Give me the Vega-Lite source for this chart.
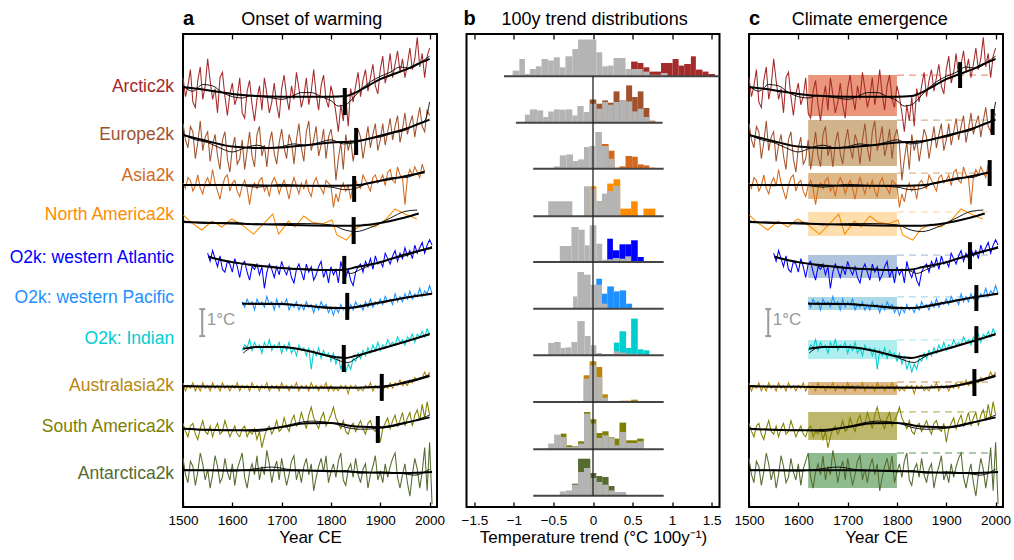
{
"$schema":"https://vega.github.io/schema/vega-lite/v6.json",
"padding":0,
"autosize":{"type":"pad"},
"background":"white",
"config":{"font":"Liberation Sans","view":{"stroke":"black","strokeWidth":2},"axis":{"grid":false,"domain":false,"labelFont":"Liberation Sans","labelFontSize":13.5,"labelColor":"black","titleFont":"Liberation Sans","titleFontSize":17,"titleFontWeight":"normal","titleColor":"black","tickColor":"black","tickWidth":1.3,"labelFlush":false}},
"datasets":{
"ts":[
{"s":"Ar","t":1500,"v":15.9},{"s":"Ar","t":1505,"v":15.2},{"s":"Ar","t":1510,"v":15.6},{"s":"Ar","t":1515,"v":16.2},{"s":"Ar","t":1520,"v":15.0},{"s":"Ar","t":1525,"v":14.8},{"s":"Ar","t":1530,"v":15.8},{"s":"Ar","t":1535,"v":16.3},{"s":"Ar","t":1540,"v":15.1},{"s":"Ar","t":1545,"v":15.6},
{"s":"Ar","t":1550,"v":16.6},{"s":"Ar","t":1555,"v":15.8},{"s":"Ar","t":1560,"v":15.1},{"s":"Ar","t":1565,"v":15.5},{"s":"Ar","t":1570,"v":14.6},{"s":"Ar","t":1575,"v":15.9},{"s":"Ar","t":1580,"v":16.1},{"s":"Ar","t":1585,"v":15.2},{"s":"Ar","t":1590,"v":14.5},{"s":"Ar","t":1595,"v":15.3},
{"s":"Ar","t":1600,"v":15.7},{"s":"Ar","t":1605,"v":14.9},{"s":"Ar","t":1610,"v":15.2},{"s":"Ar","t":1615,"v":15.9},{"s":"Ar","t":1620,"v":14.6},{"s":"Ar","t":1625,"v":14.4},{"s":"Ar","t":1630,"v":15.4},{"s":"Ar","t":1635,"v":15.8},{"s":"Ar","t":1640,"v":14.9},{"s":"Ar","t":1645,"v":14.3},
{"s":"Ar","t":1650,"v":15.1},{"s":"Ar","t":1655,"v":15.6},{"s":"Ar","t":1660,"v":14.7},{"s":"Ar","t":1665,"v":15.9},{"s":"Ar","t":1670,"v":15.3},{"s":"Ar","t":1675,"v":14.6},{"s":"Ar","t":1680,"v":15.0},{"s":"Ar","t":1685,"v":15.7},{"s":"Ar","t":1690,"v":14.9},{"s":"Ar","t":1695,"v":14.4},
{"s":"Ar","t":1700,"v":15.5},{"s":"Ar","t":1705,"v":16.0},{"s":"Ar","t":1710,"v":15.2},{"s":"Ar","t":1715,"v":14.7},{"s":"Ar","t":1720,"v":15.6},{"s":"Ar","t":1725,"v":15.1},{"s":"Ar","t":1730,"v":16.1},{"s":"Ar","t":1735,"v":15.5},{"s":"Ar","t":1740,"v":14.8},{"s":"Ar","t":1745,"v":15.2},
{"s":"Ar","t":1750,"v":15.9},{"s":"Ar","t":1755,"v":14.9},{"s":"Ar","t":1760,"v":15.4},{"s":"Ar","t":1765,"v":16.2},{"s":"Ar","t":1770,"v":15.3},{"s":"Ar","t":1775,"v":14.7},{"s":"Ar","t":1780,"v":15.6},{"s":"Ar","t":1785,"v":16.0},{"s":"Ar","t":1790,"v":15.1},{"s":"Ar","t":1795,"v":14.8},
{"s":"Ar","t":1800,"v":15.6},{"s":"Ar","t":1805,"v":15.2},{"s":"Ar","t":1810,"v":14.6},{"s":"Ar","t":1815,"v":13.9},{"s":"Ar","t":1820,"v":14.9},{"s":"Ar","t":1825,"v":14.3},{"s":"Ar","t":1830,"v":15.2},{"s":"Ar","t":1835,"v":14.1},{"s":"Ar","t":1840,"v":15.5},{"s":"Ar","t":1845,"v":15.0},
{"s":"Ar","t":1850,"v":15.6},{"s":"Ar","t":1855,"v":16.1},{"s":"Ar","t":1860,"v":15.2},{"s":"Ar","t":1865,"v":15.8},{"s":"Ar","t":1870,"v":16.2},{"s":"Ar","t":1875,"v":15.4},{"s":"Ar","t":1880,"v":15.9},{"s":"Ar","t":1885,"v":16.4},{"s":"Ar","t":1890,"v":15.6},{"s":"Ar","t":1895,"v":15.3},
{"s":"Ar","t":1900,"v":16.2},{"s":"Ar","t":1905,"v":16.7},{"s":"Ar","t":1910,"v":15.7},{"s":"Ar","t":1915,"v":16.1},{"s":"Ar","t":1920,"v":16.8},{"s":"Ar","t":1925,"v":15.9},{"s":"Ar","t":1930,"v":16.4},{"s":"Ar","t":1935,"v":16.9},{"s":"Ar","t":1940,"v":16.1},{"s":"Ar","t":1945,"v":16.6},
{"s":"Ar","t":1950,"v":15.9},{"s":"Ar","t":1955,"v":16.4},{"s":"Ar","t":1960,"v":17.0},{"s":"Ar","t":1965,"v":16.2},{"s":"Ar","t":1970,"v":16.6},{"s":"Ar","t":1975,"v":17.4},{"s":"Ar","t":1980,"v":16.3},{"s":"Ar","t":1985,"v":16.8},{"s":"Ar","t":1990,"v":15.9},{"s":"Ar","t":1995,"v":16.7},{"s":"Ar","t":2000,"v":17.0},
{"s":"Eu","t":1500,"v":14.2},{"s":"Eu","t":1505,"v":13.6},{"s":"Eu","t":1510,"v":13.3},{"s":"Eu","t":1515,"v":14.1},{"s":"Eu","t":1520,"v":13.9},{"s":"Eu","t":1525,"v":12.9},{"s":"Eu","t":1530,"v":13.5},{"s":"Eu","t":1535,"v":14.3},{"s":"Eu","t":1540,"v":13.2},{"s":"Eu","t":1545,"v":13.7},
{"s":"Eu","t":1550,"v":13.9},{"s":"Eu","t":1555,"v":12.8},{"s":"Eu","t":1560,"v":13.4},{"s":"Eu","t":1565,"v":13.8},{"s":"Eu","t":1570,"v":13.0},{"s":"Eu","t":1575,"v":12.5},{"s":"Eu","t":1580,"v":13.6},{"s":"Eu","t":1585,"v":13.9},{"s":"Eu","t":1590,"v":12.9},{"s":"Eu","t":1595,"v":12.4},
{"s":"Eu","t":1600,"v":13.3},{"s":"Eu","t":1605,"v":13.7},{"s":"Eu","t":1610,"v":12.7},{"s":"Eu","t":1615,"v":12.9},{"s":"Eu","t":1620,"v":13.6},{"s":"Eu","t":1625,"v":12.5},{"s":"Eu","t":1630,"v":13.2},{"s":"Eu","t":1635,"v":13.9},{"s":"Eu","t":1640,"v":13.0},{"s":"Eu","t":1645,"v":12.6},
{"s":"Eu","t":1650,"v":13.8},{"s":"Eu","t":1655,"v":14.1},{"s":"Eu","t":1660,"v":13.0},{"s":"Eu","t":1665,"v":13.4},{"s":"Eu","t":1670,"v":12.6},{"s":"Eu","t":1675,"v":13.5},{"s":"Eu","t":1680,"v":13.9},{"s":"Eu","t":1685,"v":13.1},{"s":"Eu","t":1690,"v":12.7},{"s":"Eu","t":1695,"v":13.5},
{"s":"Eu","t":1700,"v":14.0},{"s":"Eu","t":1705,"v":13.3},{"s":"Eu","t":1710,"v":12.9},{"s":"Eu","t":1715,"v":13.8},{"s":"Eu","t":1720,"v":13.5},{"s":"Eu","t":1725,"v":12.7},{"s":"Eu","t":1730,"v":13.6},{"s":"Eu","t":1735,"v":14.2},{"s":"Eu","t":1740,"v":13.3},{"s":"Eu","t":1745,"v":12.8},
{"s":"Eu","t":1750,"v":13.9},{"s":"Eu","t":1755,"v":14.3},{"s":"Eu","t":1760,"v":13.2},{"s":"Eu","t":1765,"v":13.6},{"s":"Eu","t":1770,"v":14.1},{"s":"Eu","t":1775,"v":13.0},{"s":"Eu","t":1780,"v":13.4},{"s":"Eu","t":1785,"v":14.0},{"s":"Eu","t":1790,"v":12.9},{"s":"Eu","t":1795,"v":13.7},
{"s":"Eu","t":1800,"v":14.0},{"s":"Eu","t":1805,"v":13.4},{"s":"Eu","t":1810,"v":12.1},{"s":"Eu","t":1815,"v":12.9},{"s":"Eu","t":1820,"v":13.5},{"s":"Eu","t":1825,"v":12.5},{"s":"Eu","t":1830,"v":13.8},{"s":"Eu","t":1835,"v":13.2},{"s":"Eu","t":1840,"v":13.6},{"s":"Eu","t":1845,"v":12.8},
{"s":"Eu","t":1850,"v":13.4},{"s":"Eu","t":1855,"v":14.0},{"s":"Eu","t":1860,"v":13.7},{"s":"Eu","t":1865,"v":12.9},{"s":"Eu","t":1870,"v":13.5},{"s":"Eu","t":1875,"v":14.1},{"s":"Eu","t":1880,"v":13.3},{"s":"Eu","t":1885,"v":13.8},{"s":"Eu","t":1890,"v":14.2},{"s":"Eu","t":1895,"v":13.2},
{"s":"Eu","t":1900,"v":13.6},{"s":"Eu","t":1905,"v":14.2},{"s":"Eu","t":1910,"v":13.4},{"s":"Eu","t":1915,"v":13.9},{"s":"Eu","t":1920,"v":14.4},{"s":"Eu","t":1925,"v":13.6},{"s":"Eu","t":1930,"v":14.1},{"s":"Eu","t":1935,"v":14.5},{"s":"Eu","t":1940,"v":13.5},{"s":"Eu","t":1945,"v":14.0},
{"s":"Eu","t":1950,"v":14.6},{"s":"Eu","t":1955,"v":13.8},{"s":"Eu","t":1960,"v":14.2},{"s":"Eu","t":1965,"v":14.5},{"s":"Eu","t":1970,"v":13.7},{"s":"Eu","t":1975,"v":14.3},{"s":"Eu","t":1980,"v":14.8},{"s":"Eu","t":1985,"v":14.1},{"s":"Eu","t":1990,"v":13.9},{"s":"Eu","t":1995,"v":14.7},{"s":"Eu","t":2000,"v":14.5},
{"s":"As","t":1500,"v":12.0},{"s":"As","t":1505,"v":11.8},{"s":"As","t":1510,"v":12.2},{"s":"As","t":1515,"v":12.1},{"s":"As","t":1520,"v":11.7},{"s":"As","t":1525,"v":11.9},{"s":"As","t":1530,"v":12.3},{"s":"As","t":1535,"v":11.8},{"s":"As","t":1540,"v":11.6},{"s":"As","t":1545,"v":12.0},
{"s":"As","t":1550,"v":12.2},{"s":"As","t":1555,"v":11.9},{"s":"As","t":1560,"v":12.5},{"s":"As","t":1565,"v":12.0},{"s":"As","t":1570,"v":11.7},{"s":"As","t":1575,"v":11.4},{"s":"As","t":1580,"v":11.9},{"s":"As","t":1585,"v":12.2},{"s":"As","t":1590,"v":12.3},{"s":"As","t":1595,"v":11.7},
{"s":"As","t":1600,"v":12.0},{"s":"As","t":1605,"v":12.1},{"s":"As","t":1610,"v":11.7},{"s":"As","t":1615,"v":11.5},{"s":"As","t":1620,"v":11.9},{"s":"As","t":1625,"v":12.1},{"s":"As","t":1630,"v":11.8},{"s":"As","t":1635,"v":11.2},{"s":"As","t":1640,"v":11.8},{"s":"As","t":1645,"v":12.0},
{"s":"As","t":1650,"v":11.8},{"s":"As","t":1655,"v":12.1},{"s":"As","t":1660,"v":12.2},{"s":"As","t":1665,"v":11.7},{"s":"As","t":1670,"v":11.9},{"s":"As","t":1675,"v":11.5},{"s":"As","t":1680,"v":12.0},{"s":"As","t":1685,"v":12.2},{"s":"As","t":1690,"v":12.0},{"s":"As","t":1695,"v":11.6},
{"s":"As","t":1700,"v":11.9},{"s":"As","t":1705,"v":12.1},{"s":"As","t":1710,"v":11.8},{"s":"As","t":1715,"v":11.4},{"s":"As","t":1720,"v":11.9},{"s":"As","t":1725,"v":12.2},{"s":"As","t":1730,"v":11.9},{"s":"As","t":1735,"v":11.6},{"s":"As","t":1740,"v":12.0},{"s":"As","t":1745,"v":11.8},
{"s":"As","t":1750,"v":12.1},{"s":"As","t":1755,"v":11.7},{"s":"As","t":1760,"v":11.5},{"s":"As","t":1765,"v":12.0},{"s":"As","t":1770,"v":12.2},{"s":"As","t":1775,"v":11.9},{"s":"As","t":1780,"v":11.8},{"s":"As","t":1785,"v":11.6},{"s":"As","t":1790,"v":12.1},{"s":"As","t":1795,"v":12.0},
{"s":"As","t":1800,"v":11.9},{"s":"As","t":1805,"v":11.1},{"s":"As","t":1810,"v":11.6},{"s":"As","t":1815,"v":11.3},{"s":"As","t":1820,"v":11.8},{"s":"As","t":1825,"v":12.0},{"s":"As","t":1830,"v":11.7},{"s":"As","t":1835,"v":11.9},{"s":"As","t":1840,"v":11.4},{"s":"As","t":1845,"v":12.0},
{"s":"As","t":1850,"v":12.1},{"s":"As","t":1855,"v":11.9},{"s":"As","t":1860,"v":11.8},{"s":"As","t":1865,"v":12.3},{"s":"As","t":1870,"v":12.1},{"s":"As","t":1875,"v":11.9},{"s":"As","t":1880,"v":11.7},{"s":"As","t":1885,"v":12.2},{"s":"As","t":1890,"v":12.3},{"s":"As","t":1895,"v":12.0},
{"s":"As","t":1900,"v":12.1},{"s":"As","t":1905,"v":12.3},{"s":"As","t":1910,"v":11.9},{"s":"As","t":1915,"v":12.4},{"s":"As","t":1920,"v":12.5},{"s":"As","t":1925,"v":12.1},{"s":"As","t":1930,"v":12.0},{"s":"As","t":1935,"v":12.6},{"s":"As","t":1940,"v":12.3},{"s":"As","t":1945,"v":12.2},
{"s":"As","t":1950,"v":11.2},{"s":"As","t":1955,"v":12.2},{"s":"As","t":1960,"v":12.5},{"s":"As","t":1965,"v":12.3},{"s":"As","t":1970,"v":12.6},{"s":"As","t":1975,"v":12.4},{"s":"As","t":1980,"v":12.2},{"s":"As","t":1985,"v":12.7},{"s":"As","t":1990,"v":12.4},
{"s":"NA","t":1501,"v":10.81},{"s":"NA","t":1515,"v":10.56},{"s":"NA","t":1538,"v":10.26},{"s":"NA","t":1559,"v":10.59},{"s":"NA","t":1579,"v":10.37},{"s":"NA","t":1599,"v":10.67},{"s":"NA","t":1620,"v":10.44},{"s":"NA","t":1643,"v":10.11},{"s":"NA","t":1667,"v":10.56},{"s":"NA","t":1682,"v":10.85},{"s":"NA","t":1694,"v":10.11},{"s":"NA","t":1714,"v":10.59},{"s":"NA","t":1727,"v":10.37},{"s":"NA","t":1745,"v":10.78},{"s":"NA","t":1761,"v":10.56},{"s":"NA","t":1782,"v":10.48},{"s":"NA","t":1802,"v":10.63},{"s":"NA","t":1812,"v":10.07},{"s":"NA","t":1832,"v":9.89},{"s":"NA","t":1849,"v":10.3},{"s":"NA","t":1869,"v":10.48},{"s":"NA","t":1889,"v":10.37},{"s":"NA","t":1910,"v":10.63},{"s":"NA","t":1930,"v":11.04},{"s":"NA","t":1950,"v":10.85},{"s":"NA","t":1974,"v":10.67},
{"s":"WA","t":1550,"v":9.4},{"s":"WA","t":1555,"v":9.1},{"s":"WA","t":1560,"v":9.5},{"s":"WA","t":1565,"v":9.2},{"s":"WA","t":1570,"v":8.9},{"s":"WA","t":1575,"v":9.3},{"s":"WA","t":1580,"v":8.8},{"s":"WA","t":1585,"v":8.7},{"s":"WA","t":1590,"v":9.1},{"s":"WA","t":1595,"v":9.0},
{"s":"WA","t":1600,"v":8.7},{"s":"WA","t":1605,"v":9.2},{"s":"WA","t":1610,"v":8.9},{"s":"WA","t":1615,"v":8.5},{"s":"WA","t":1620,"v":9.0},{"s":"WA","t":1625,"v":9.1},{"s":"WA","t":1630,"v":8.7},{"s":"WA","t":1635,"v":8.4},{"s":"WA","t":1640,"v":8.9},{"s":"WA","t":1645,"v":8.8},
{"s":"WA","t":1650,"v":9.0},{"s":"WA","t":1655,"v":8.6},{"s":"WA","t":1660,"v":8.9},{"s":"WA","t":1665,"v":8.1},{"s":"WA","t":1670,"v":8.7},{"s":"WA","t":1675,"v":9.0},{"s":"WA","t":1680,"v":8.8},{"s":"WA","t":1685,"v":8.5},{"s":"WA","t":1690,"v":8.9},{"s":"WA","t":1695,"v":8.6},
{"s":"WA","t":1700,"v":9.1},{"s":"WA","t":1705,"v":8.8},{"s":"WA","t":1710,"v":8.6},{"s":"WA","t":1715,"v":8.9},{"s":"WA","t":1720,"v":8.5},{"s":"WA","t":1725,"v":8.3},{"s":"WA","t":1730,"v":8.8},{"s":"WA","t":1735,"v":9.0},{"s":"WA","t":1740,"v":8.7},{"s":"WA","t":1745,"v":8.4},
{"s":"WA","t":1750,"v":9.0},{"s":"WA","t":1755,"v":8.7},{"s":"WA","t":1760,"v":8.9},{"s":"WA","t":1765,"v":8.4},{"s":"WA","t":1770,"v":8.6},{"s":"WA","t":1775,"v":8.9},{"s":"WA","t":1780,"v":9.1},{"s":"WA","t":1785,"v":8.5},{"s":"WA","t":1790,"v":8.8},{"s":"WA","t":1795,"v":8.3},
{"s":"WA","t":1800,"v":8.9},{"s":"WA","t":1805,"v":8.6},{"s":"WA","t":1810,"v":8.8},{"s":"WA","t":1815,"v":8.3},{"s":"WA","t":1820,"v":9.1},{"s":"WA","t":1825,"v":8.7},{"s":"WA","t":1830,"v":8.5},{"s":"WA","t":1835,"v":8.8},{"s":"WA","t":1840,"v":8.4},{"s":"WA","t":1845,"v":8.2},
{"s":"WA","t":1850,"v":8.7},{"s":"WA","t":1855,"v":8.9},{"s":"WA","t":1860,"v":9.0},{"s":"WA","t":1865,"v":8.7},{"s":"WA","t":1870,"v":9.1},{"s":"WA","t":1875,"v":8.9},{"s":"WA","t":1880,"v":9.2},{"s":"WA","t":1885,"v":8.8},{"s":"WA","t":1890,"v":9.3},{"s":"WA","t":1895,"v":9.0},
{"s":"WA","t":1900,"v":9.1},{"s":"WA","t":1905,"v":8.9},{"s":"WA","t":1910,"v":9.4},{"s":"WA","t":1915,"v":9.2},{"s":"WA","t":1920,"v":9.0},{"s":"WA","t":1925,"v":9.3},{"s":"WA","t":1930,"v":9.5},{"s":"WA","t":1935,"v":9.1},{"s":"WA","t":1940,"v":9.4},{"s":"WA","t":1945,"v":9.2},
{"s":"WA","t":1950,"v":9.6},{"s":"WA","t":1955,"v":9.3},{"s":"WA","t":1960,"v":9.5},{"s":"WA","t":1965,"v":9.2},{"s":"WA","t":1970,"v":9.7},{"s":"WA","t":1975,"v":9.4},{"s":"WA","t":1980,"v":9.6},{"s":"WA","t":1985,"v":9.8},{"s":"WA","t":1990,"v":9.4},{"s":"WA","t":1995,"v":9.7},{"s":"WA","t":2000,"v":9.9},{"s":"WA","t":2005,"v":9.7},
{"s":"WP","t":1620,"v":7.6},{"s":"WP","t":1625,"v":7.4},{"s":"WP","t":1630,"v":7.7},{"s":"WP","t":1635,"v":7.5},{"s":"WP","t":1640,"v":7.6},{"s":"WP","t":1645,"v":7.3},{"s":"WP","t":1650,"v":7.7},{"s":"WP","t":1655,"v":7.5},{"s":"WP","t":1660,"v":7.6},{"s":"WP","t":1665,"v":7.4},
{"s":"WP","t":1670,"v":7.8},{"s":"WP","t":1675,"v":7.5},{"s":"WP","t":1680,"v":7.6},{"s":"WP","t":1685,"v":7.3},{"s":"WP","t":1690,"v":7.7},{"s":"WP","t":1695,"v":7.4},{"s":"WP","t":1700,"v":7.6},{"s":"WP","t":1705,"v":7.5},{"s":"WP","t":1710,"v":7.7},{"s":"WP","t":1715,"v":7.3},
{"s":"WP","t":1720,"v":7.5},{"s":"WP","t":1725,"v":7.4},{"s":"WP","t":1730,"v":7.6},{"s":"WP","t":1735,"v":7.3},{"s":"WP","t":1740,"v":7.5},{"s":"WP","t":1745,"v":7.3},{"s":"WP","t":1750,"v":7.6},{"s":"WP","t":1755,"v":7.4},{"s":"WP","t":1760,"v":7.5},{"s":"WP","t":1765,"v":7.2},
{"s":"WP","t":1770,"v":7.5},{"s":"WP","t":1775,"v":7.3},{"s":"WP","t":1780,"v":7.6},{"s":"WP","t":1785,"v":7.4},{"s":"WP","t":1790,"v":7.5},{"s":"WP","t":1795,"v":7.2},{"s":"WP","t":1800,"v":7.4},{"s":"WP","t":1805,"v":7.1},{"s":"WP","t":1810,"v":7.4},{"s":"WP","t":1815,"v":7.2},
{"s":"WP","t":1820,"v":7.5},{"s":"WP","t":1825,"v":7.3},{"s":"WP","t":1830,"v":7.4},{"s":"WP","t":1835,"v":7.2},{"s":"WP","t":1840,"v":7.5},{"s":"WP","t":1845,"v":7.3},{"s":"WP","t":1850,"v":7.6},{"s":"WP","t":1855,"v":7.4},{"s":"WP","t":1860,"v":7.5},{"s":"WP","t":1865,"v":7.3},
{"s":"WP","t":1870,"v":7.6},{"s":"WP","t":1875,"v":7.4},{"s":"WP","t":1880,"v":7.7},{"s":"WP","t":1885,"v":7.4},{"s":"WP","t":1890,"v":7.6},{"s":"WP","t":1895,"v":7.5},{"s":"WP","t":1900,"v":7.7},{"s":"WP","t":1905,"v":7.5},{"s":"WP","t":1910,"v":7.8},{"s":"WP","t":1915,"v":7.6},
{"s":"WP","t":1920,"v":7.7},{"s":"WP","t":1925,"v":7.5},{"s":"WP","t":1930,"v":7.9},{"s":"WP","t":1935,"v":7.6},{"s":"WP","t":1940,"v":7.8},{"s":"WP","t":1945,"v":7.6},{"s":"WP","t":1950,"v":7.9},{"s":"WP","t":1955,"v":7.7},{"s":"WP","t":1960,"v":8.0},{"s":"WP","t":1965,"v":7.7},
{"s":"WP","t":1970,"v":7.9},{"s":"WP","t":1975,"v":7.8},{"s":"WP","t":1980,"v":8.1},{"s":"WP","t":1985,"v":7.8},{"s":"WP","t":1990,"v":8.0},{"s":"WP","t":1995,"v":7.9},{"s":"WP","t":2000,"v":8.2},{"s":"WP","t":2005,"v":7.9},
{"s":"IO","t":1620,"v":5.8},{"s":"IO","t":1625,"v":6.0},{"s":"IO","t":1630,"v":5.9},{"s":"IO","t":1635,"v":6.2},{"s":"IO","t":1640,"v":5.8},{"s":"IO","t":1645,"v":6.1},{"s":"IO","t":1650,"v":5.9},{"s":"IO","t":1655,"v":6.0},{"s":"IO","t":1660,"v":5.7},{"s":"IO","t":1665,"v":6.1},
{"s":"IO","t":1670,"v":5.9},{"s":"IO","t":1675,"v":6.2},{"s":"IO","t":1680,"v":5.8},{"s":"IO","t":1685,"v":6.0},{"s":"IO","t":1690,"v":5.9},{"s":"IO","t":1695,"v":6.1},{"s":"IO","t":1700,"v":5.7},{"s":"IO","t":1705,"v":6.0},{"s":"IO","t":1710,"v":5.8},{"s":"IO","t":1715,"v":6.1},
{"s":"IO","t":1720,"v":5.7},{"s":"IO","t":1725,"v":5.9},{"s":"IO","t":1730,"v":5.6},{"s":"IO","t":1735,"v":6.0},{"s":"IO","t":1740,"v":5.8},{"s":"IO","t":1745,"v":5.9},{"s":"IO","t":1750,"v":5.6},{"s":"IO","t":1755,"v":5.9},{"s":"IO","t":1760,"v":5.1},{"s":"IO","t":1765,"v":5.8},
{"s":"IO","t":1770,"v":5.6},{"s":"IO","t":1775,"v":5.9},{"s":"IO","t":1780,"v":5.5},{"s":"IO","t":1785,"v":5.8},{"s":"IO","t":1790,"v":5.6},{"s":"IO","t":1795,"v":5.7},{"s":"IO","t":1800,"v":5.4},{"s":"IO","t":1805,"v":5.7},{"s":"IO","t":1810,"v":5.3},{"s":"IO","t":1815,"v":5.6},
{"s":"IO","t":1820,"v":5.1},{"s":"IO","t":1825,"v":5.4},{"s":"IO","t":1830,"v":5.0},{"s":"IO","t":1835,"v":5.3},{"s":"IO","t":1840,"v":5.1},{"s":"IO","t":1845,"v":5.5},{"s":"IO","t":1850,"v":5.4},{"s":"IO","t":1855,"v":5.7},{"s":"IO","t":1860,"v":5.5},{"s":"IO","t":1865,"v":5.8},
{"s":"IO","t":1870,"v":5.6},{"s":"IO","t":1875,"v":5.9},{"s":"IO","t":1880,"v":5.7},{"s":"IO","t":1885,"v":6.0},{"s":"IO","t":1890,"v":5.8},{"s":"IO","t":1895,"v":6.1},{"s":"IO","t":1900,"v":5.8},{"s":"IO","t":1905,"v":6.0},{"s":"IO","t":1910,"v":5.9},{"s":"IO","t":1915,"v":6.2},
{"s":"IO","t":1920,"v":6.0},{"s":"IO","t":1925,"v":6.1},{"s":"IO","t":1930,"v":6.0},{"s":"IO","t":1935,"v":6.3},{"s":"IO","t":1940,"v":6.1},{"s":"IO","t":1945,"v":6.2},{"s":"IO","t":1950,"v":6.0},{"s":"IO","t":1955,"v":6.3},{"s":"IO","t":1960,"v":6.2},{"s":"IO","t":1965,"v":6.4},
{"s":"IO","t":1970,"v":6.1},{"s":"IO","t":1975,"v":6.4},{"s":"IO","t":1980,"v":6.3},{"s":"IO","t":1985,"v":6.5},{"s":"IO","t":1990,"v":6.3},{"s":"IO","t":1995,"v":6.6},{"s":"IO","t":2000,"v":6.4},
{"s":"Au","t":1500,"v":4.6},{"s":"Au","t":1505,"v":4.3},{"s":"Au","t":1510,"v":4.5},{"s":"Au","t":1515,"v":4.4},{"s":"Au","t":1520,"v":4.6},{"s":"Au","t":1525,"v":4.3},{"s":"Au","t":1530,"v":4.5},{"s":"Au","t":1535,"v":4.3},{"s":"Au","t":1540,"v":4.6},{"s":"Au","t":1545,"v":4.4},
{"s":"Au","t":1550,"v":4.5},{"s":"Au","t":1555,"v":4.3},{"s":"Au","t":1560,"v":4.6},{"s":"Au","t":1565,"v":4.4},{"s":"Au","t":1570,"v":4.5},{"s":"Au","t":1575,"v":4.3},{"s":"Au","t":1580,"v":4.6},{"s":"Au","t":1585,"v":4.4},{"s":"Au","t":1590,"v":4.5},{"s":"Au","t":1595,"v":4.3},
{"s":"Au","t":1600,"v":4.5},{"s":"Au","t":1605,"v":4.4},{"s":"Au","t":1610,"v":4.6},{"s":"Au","t":1615,"v":4.3},{"s":"Au","t":1620,"v":4.5},{"s":"Au","t":1625,"v":4.4},{"s":"Au","t":1630,"v":4.5},{"s":"Au","t":1635,"v":4.3},{"s":"Au","t":1640,"v":4.6},{"s":"Au","t":1645,"v":4.4},
{"s":"Au","t":1650,"v":4.5},{"s":"Au","t":1655,"v":4.3},{"s":"Au","t":1660,"v":4.5},{"s":"Au","t":1665,"v":4.4},{"s":"Au","t":1670,"v":4.6},{"s":"Au","t":1675,"v":4.3},{"s":"Au","t":1680,"v":4.5},{"s":"Au","t":1685,"v":4.4},{"s":"Au","t":1690,"v":4.5},{"s":"Au","t":1695,"v":4.3},
{"s":"Au","t":1700,"v":4.6},{"s":"Au","t":1705,"v":4.4},{"s":"Au","t":1710,"v":4.5},{"s":"Au","t":1715,"v":4.3},{"s":"Au","t":1720,"v":4.5},{"s":"Au","t":1725,"v":4.4},{"s":"Au","t":1730,"v":4.6},{"s":"Au","t":1735,"v":4.3},{"s":"Au","t":1740,"v":4.5},{"s":"Au","t":1745,"v":4.4},
{"s":"Au","t":1750,"v":4.5},{"s":"Au","t":1755,"v":4.3},{"s":"Au","t":1760,"v":4.6},{"s":"Au","t":1765,"v":4.4},{"s":"Au","t":1770,"v":4.5},{"s":"Au","t":1775,"v":4.3},{"s":"Au","t":1780,"v":4.5},{"s":"Au","t":1785,"v":4.4},{"s":"Au","t":1790,"v":4.6},{"s":"Au","t":1795,"v":4.3},
{"s":"Au","t":1800,"v":4.5},{"s":"Au","t":1805,"v":4.3},{"s":"Au","t":1810,"v":4.4},{"s":"Au","t":1815,"v":4.3},{"s":"Au","t":1820,"v":4.5},{"s":"Au","t":1825,"v":4.4},{"s":"Au","t":1830,"v":4.5},{"s":"Au","t":1835,"v":4.2},{"s":"Au","t":1840,"v":4.5},{"s":"Au","t":1845,"v":4.4},
{"s":"Au","t":1850,"v":4.5},{"s":"Au","t":1855,"v":4.3},{"s":"Au","t":1860,"v":4.4},{"s":"Au","t":1865,"v":4.3},{"s":"Au","t":1870,"v":4.5},{"s":"Au","t":1875,"v":4.4},{"s":"Au","t":1880,"v":4.6},{"s":"Au","t":1885,"v":4.3},{"s":"Au","t":1890,"v":4.5},{"s":"Au","t":1895,"v":4.4},
{"s":"Au","t":1900,"v":4.5},{"s":"Au","t":1905,"v":4.3},{"s":"Au","t":1910,"v":4.5},{"s":"Au","t":1915,"v":4.4},{"s":"Au","t":1920,"v":4.6},{"s":"Au","t":1925,"v":4.4},{"s":"Au","t":1930,"v":4.6},{"s":"Au","t":1935,"v":4.5},{"s":"Au","t":1940,"v":4.7},{"s":"Au","t":1945,"v":4.5},
{"s":"Au","t":1950,"v":4.6},{"s":"Au","t":1955,"v":4.5},{"s":"Au","t":1960,"v":4.7},{"s":"Au","t":1965,"v":4.6},{"s":"Au","t":1970,"v":4.8},{"s":"Au","t":1975,"v":4.7},{"s":"Au","t":1980,"v":4.8},{"s":"Au","t":1985,"v":4.8},{"s":"Au","t":1990,"v":5.0},{"s":"Au","t":1995,"v":4.8},{"s":"Au","t":2000,"v":5.0},
{"s":"SA","t":1500,"v":3.1},{"s":"SA","t":1505,"v":2.8},{"s":"SA","t":1510,"v":2.6},{"s":"SA","t":1515,"v":3.0},{"s":"SA","t":1520,"v":3.1},{"s":"SA","t":1525,"v":2.7},{"s":"SA","t":1530,"v":2.5},{"s":"SA","t":1535,"v":2.9},{"s":"SA","t":1540,"v":3.2},{"s":"SA","t":1545,"v":2.8},
{"s":"SA","t":1550,"v":2.7},{"s":"SA","t":1555,"v":3.0},{"s":"SA","t":1560,"v":2.6},{"s":"SA","t":1565,"v":2.9},{"s":"SA","t":1570,"v":3.1},{"s":"SA","t":1575,"v":2.7},{"s":"SA","t":1580,"v":2.8},{"s":"SA","t":1585,"v":3.2},{"s":"SA","t":1590,"v":2.9},{"s":"SA","t":1595,"v":2.6},
{"s":"SA","t":1600,"v":2.8},{"s":"SA","t":1605,"v":3.0},{"s":"SA","t":1610,"v":2.7},{"s":"SA","t":1615,"v":2.6},{"s":"SA","t":1620,"v":2.9},{"s":"SA","t":1625,"v":3.0},{"s":"SA","t":1630,"v":2.6},{"s":"SA","t":1635,"v":2.8},{"s":"SA","t":1640,"v":2.7},{"s":"SA","t":1645,"v":2.9},
{"s":"SA","t":1650,"v":2.5},{"s":"SA","t":1655,"v":2.8},{"s":"SA","t":1660,"v":2.2},{"s":"SA","t":1665,"v":2.6},{"s":"SA","t":1670,"v":2.9},{"s":"SA","t":1675,"v":3.0},{"s":"SA","t":1680,"v":2.7},{"s":"SA","t":1685,"v":2.9},{"s":"SA","t":1690,"v":3.2},{"s":"SA","t":1695,"v":2.8},
{"s":"SA","t":1700,"v":2.9},{"s":"SA","t":1705,"v":3.3},{"s":"SA","t":1710,"v":3.0},{"s":"SA","t":1715,"v":2.8},{"s":"SA","t":1720,"v":3.2},{"s":"SA","t":1725,"v":3.4},{"s":"SA","t":1730,"v":3.0},{"s":"SA","t":1735,"v":3.1},{"s":"SA","t":1740,"v":3.5},{"s":"SA","t":1745,"v":3.2},
{"s":"SA","t":1750,"v":2.9},{"s":"SA","t":1755,"v":3.4},{"s":"SA","t":1760,"v":3.7},{"s":"SA","t":1765,"v":3.3},{"s":"SA","t":1770,"v":3.1},{"s":"SA","t":1775,"v":2.9},{"s":"SA","t":1780,"v":3.3},{"s":"SA","t":1785,"v":3.5},{"s":"SA","t":1790,"v":3.0},{"s":"SA","t":1795,"v":3.2},
{"s":"SA","t":1800,"v":3.4},{"s":"SA","t":1805,"v":3.7},{"s":"SA","t":1810,"v":3.3},{"s":"SA","t":1815,"v":3.1},{"s":"SA","t":1820,"v":2.9},{"s":"SA","t":1825,"v":3.2},{"s":"SA","t":1830,"v":2.8},{"s":"SA","t":1835,"v":2.7},{"s":"SA","t":1840,"v":3.0},{"s":"SA","t":1845,"v":3.1},
{"s":"SA","t":1850,"v":2.8},{"s":"SA","t":1855,"v":3.0},{"s":"SA","t":1860,"v":3.2},{"s":"SA","t":1865,"v":2.9},{"s":"SA","t":1870,"v":2.7},{"s":"SA","t":1875,"v":3.1},{"s":"SA","t":1880,"v":3.2},{"s":"SA","t":1885,"v":2.9},{"s":"SA","t":1890,"v":2.8},{"s":"SA","t":1895,"v":3.1},
{"s":"SA","t":1900,"v":2.4},{"s":"SA","t":1905,"v":2.9},{"s":"SA","t":1910,"v":3.1},{"s":"SA","t":1915,"v":3.3},{"s":"SA","t":1920,"v":2.9},{"s":"SA","t":1925,"v":3.2},{"s":"SA","t":1930,"v":3.4},{"s":"SA","t":1935,"v":3.0},{"s":"SA","t":1940,"v":3.2},{"s":"SA","t":1945,"v":3.5},
{"s":"SA","t":1950,"v":3.0},{"s":"SA","t":1955,"v":3.3},{"s":"SA","t":1960,"v":3.5},{"s":"SA","t":1965,"v":3.0},{"s":"SA","t":1970,"v":3.4},{"s":"SA","t":1975,"v":3.6},{"s":"SA","t":1980,"v":3.2},{"s":"SA","t":1985,"v":3.8},{"s":"SA","t":1990,"v":3.3},{"s":"SA","t":1995,"v":3.9},{"s":"SA","t":2000,"v":3.4},
{"s":"An","t":1500,"v":1.8},{"s":"An","t":1505,"v":1.2},{"s":"An","t":1510,"v":0.9},{"s":"An","t":1515,"v":1.7},{"s":"An","t":1520,"v":1.5},{"s":"An","t":1525,"v":0.8},{"s":"An","t":1530,"v":1.3},{"s":"An","t":1535,"v":2.0},{"s":"An","t":1540,"v":1.6},{"s":"An","t":1545,"v":1.0},
{"s":"An","t":1550,"v":1.4},{"s":"An","t":1555,"v":0.7},{"s":"An","t":1560,"v":1.2},{"s":"An","t":1565,"v":1.9},{"s":"An","t":1570,"v":1.5},{"s":"An","t":1575,"v":0.9},{"s":"An","t":1580,"v":1.1},{"s":"An","t":1585,"v":1.8},{"s":"An","t":1590,"v":1.3},{"s":"An","t":1595,"v":1.0},
{"s":"An","t":1600,"v":1.6},{"s":"An","t":1605,"v":0.8},{"s":"An","t":1610,"v":1.4},{"s":"An","t":1615,"v":1.7},{"s":"An","t":1620,"v":2.0},{"s":"An","t":1625,"v":1.1},{"s":"An","t":1630,"v":0.7},{"s":"An","t":1635,"v":1.3},{"s":"An","t":1640,"v":1.6},{"s":"An","t":1645,"v":1.2},
{"s":"An","t":1650,"v":1.9},{"s":"An","t":1655,"v":1.0},{"s":"An","t":1660,"v":1.5},{"s":"An","t":1665,"v":1.2},{"s":"An","t":1670,"v":2.1},{"s":"An","t":1675,"v":1.6},{"s":"An","t":1680,"v":0.9},{"s":"An","t":1685,"v":1.4},{"s":"An","t":1690,"v":1.7},{"s":"An","t":1695,"v":1.0},
{"s":"An","t":1700,"v":1.8},{"s":"An","t":1705,"v":1.3},{"s":"An","t":1710,"v":0.8},{"s":"An","t":1715,"v":1.2},{"s":"An","t":1720,"v":1.7},{"s":"An","t":1725,"v":1.9},{"s":"An","t":1730,"v":1.0},{"s":"An","t":1735,"v":1.4},{"s":"An","t":1740,"v":0.9},{"s":"An","t":1745,"v":1.5},
{"s":"An","t":1750,"v":1.8},{"s":"An","t":1755,"v":1.2},{"s":"An","t":1760,"v":1.6},{"s":"An","t":1765,"v":0.6},{"s":"An","t":1770,"v":1.1},{"s":"An","t":1775,"v":1.5},{"s":"An","t":1780,"v":1.8},{"s":"An","t":1785,"v":1.3},{"s":"An","t":1790,"v":1.9},{"s":"An","t":1795,"v":0.9},
{"s":"An","t":1800,"v":1.3},{"s":"An","t":1805,"v":1.6},{"s":"An","t":1810,"v":1.1},{"s":"An","t":1815,"v":1.7},{"s":"An","t":1820,"v":2.0},{"s":"An","t":1825,"v":1.0},{"s":"An","t":1830,"v":0.8},{"s":"An","t":1835,"v":1.4},{"s":"An","t":1840,"v":1.6},{"s":"An","t":1845,"v":1.1},
{"s":"An","t":1850,"v":1.8},{"s":"An","t":1855,"v":1.2},{"s":"An","t":1860,"v":0.9},{"s":"An","t":1865,"v":1.4},{"s":"An","t":1870,"v":1.6},{"s":"An","t":1875,"v":0.7},{"s":"An","t":1880,"v":1.2},{"s":"An","t":1885,"v":1.5},{"s":"An","t":1890,"v":1.9},{"s":"An","t":1895,"v":1.0},
{"s":"An","t":1900,"v":1.3},{"s":"An","t":1905,"v":0.9},{"s":"An","t":1910,"v":1.6},{"s":"An","t":1915,"v":1.1},{"s":"An","t":1920,"v":1.5},{"s":"An","t":1925,"v":1.8},{"s":"An","t":1930,"v":2.0},{"s":"An","t":1935,"v":1.1},{"s":"An","t":1940,"v":0.7},{"s":"An","t":1945,"v":1.2},
{"s":"An","t":1950,"v":1.6},{"s":"An","t":1955,"v":0.9},{"s":"An","t":1960,"v":0.4},{"s":"An","t":1965,"v":1.2},{"s":"An","t":1970,"v":1.8},{"s":"An","t":1975,"v":1.4},{"s":"An","t":1980,"v":0.7},{"s":"An","t":1985,"v":1.3},{"s":"An","t":1990,"v":2.2},{"s":"An","t":1995,"v":0.6},{"s":"An","t":2000,"v":2.4},{"s":"An","t":2005,"v":0.1}
],
"smA":[
{"s":"Ar","t":1500,"v":15.56},{"s":"Ar","t":1550,"v":15.44},{"s":"Ar","t":1600,"v":15.3},{"s":"Ar","t":1650,"v":15.22},{"s":"Ar","t":1700,"v":15.2},{"s":"Ar","t":1750,"v":15.2},{"s":"Ar","t":1800,"v":15.2},{"s":"Ar","t":1830,"v":15.22},{"s":"Ar","t":1850,"v":15.35},{"s":"Ar","t":1875,"v":15.6},{"s":"Ar","t":1900,"v":15.85},{"s":"Ar","t":1925,"v":16.02},{"s":"Ar","t":1950,"v":16.19},{"s":"Ar","t":1975,"v":16.4},{"s":"Ar","t":2000,"v":16.6},
{"s":"Eu","t":1500,"v":13.78},{"s":"Eu","t":1550,"v":13.55},{"s":"Eu","t":1600,"v":13.35},{"s":"Eu","t":1650,"v":13.3},{"s":"Eu","t":1700,"v":13.32},{"s":"Eu","t":1750,"v":13.4},{"s":"Eu","t":1800,"v":13.5},{"s":"Eu","t":1850,"v":13.55},{"s":"Eu","t":1900,"v":13.75},{"s":"Eu","t":1950,"v":14.0},{"s":"Eu","t":2000,"v":14.35},
{"s":"As","t":1500,"v":11.93},{"s":"As","t":1600,"v":11.93},{"s":"As","t":1700,"v":11.9},{"s":"As","t":1800,"v":11.9},{"s":"As","t":1850,"v":11.92},{"s":"As","t":1900,"v":12.08},{"s":"As","t":1950,"v":12.25},{"s":"As","t":1990,"v":12.4},
{"s":"NA","t":1500,"v":10.56},{"s":"NA","t":1600,"v":10.5},{"s":"NA","t":1700,"v":10.45},{"s":"NA","t":1800,"v":10.42},{"s":"NA","t":1850,"v":10.42},{"s":"NA","t":1900,"v":10.52},{"s":"NA","t":1950,"v":10.72},{"s":"NA","t":1978,"v":10.87},
{"s":"WA","t":1552,"v":9.26},{"s":"WA","t":1600,"v":9.07},{"s":"WA","t":1650,"v":8.95},{"s":"WA","t":1700,"v":8.85},{"s":"WA","t":1750,"v":8.8},{"s":"WA","t":1800,"v":8.78},{"s":"WA","t":1830,"v":8.8},{"s":"WA","t":1850,"v":8.88},{"s":"WA","t":1900,"v":9.07},{"s":"WA","t":1950,"v":9.35},{"s":"WA","t":2005,"v":9.6},
{"s":"WP","t":1620,"v":7.53},{"s":"WP","t":1700,"v":7.52},{"s":"WP","t":1750,"v":7.45},{"s":"WP","t":1800,"v":7.38},{"s":"WP","t":1830,"v":7.37},{"s":"WP","t":1900,"v":7.57},{"s":"WP","t":1950,"v":7.75},{"s":"WP","t":2005,"v":7.9},
{"s":"IO","t":1622,"v":5.86},{"s":"IO","t":1650,"v":5.93},{"s":"IO","t":1700,"v":5.93},{"s":"IO","t":1750,"v":5.8},{"s":"IO","t":1800,"v":5.58},{"s":"IO","t":1830,"v":5.52},{"s":"IO","t":1850,"v":5.6},{"s":"IO","t":1900,"v":5.85},{"s":"IO","t":1950,"v":6.12},{"s":"IO","t":2000,"v":6.4},
{"s":"Au","t":1500,"v":4.47},{"s":"Au","t":1600,"v":4.45},{"s":"Au","t":1700,"v":4.43},{"s":"Au","t":1800,"v":4.42},{"s":"Au","t":1850,"v":4.42},{"s":"Au","t":1900,"v":4.45},{"s":"Au","t":1950,"v":4.6},{"s":"Au","t":2000,"v":4.85},
{"s":"SA","t":1500,"v":2.9},{"s":"SA","t":1550,"v":2.86},{"s":"SA","t":1600,"v":2.84},{"s":"SA","t":1650,"v":2.85},{"s":"SA","t":1700,"v":2.96},{"s":"SA","t":1750,"v":3.1},{"s":"SA","t":1800,"v":3.11},{"s":"SA","t":1850,"v":2.98},{"s":"SA","t":1900,"v":2.95},{"s":"SA","t":1950,"v":3.12},{"s":"SA","t":2000,"v":3.32},
{"s":"An","t":1500,"v":1.36},{"s":"An","t":1600,"v":1.36},{"s":"An","t":1700,"v":1.36},{"s":"An","t":1800,"v":1.33},{"s":"An","t":1850,"v":1.3},{"s":"An","t":1900,"v":1.27},{"s":"An","t":1950,"v":1.26},{"s":"An","t":2005,"v":1.3}
],
"smB":[
{"s":"Ar","t":1500,"v":15.6},{"s":"Ar","t":1520,"v":15.4},{"s":"Ar","t":1540,"v":15.65},{"s":"Ar","t":1560,"v":15.6},{"s":"Ar","t":1580,"v":15.35},{"s":"Ar","t":1600,"v":15.2},{"s":"Ar","t":1620,"v":15.15},{"s":"Ar","t":1640,"v":15.25},{"s":"Ar","t":1660,"v":15.2},{"s":"Ar","t":1680,"v":15.15},{"s":"Ar","t":1700,"v":15.1},{"s":"Ar","t":1720,"v":15.2},{"s":"Ar","t":1740,"v":15.35},{"s":"Ar","t":1760,"v":15.35},{"s":"Ar","t":1780,"v":15.2},{"s":"Ar","t":1800,"v":15.05},{"s":"Ar","t":1815,"v":14.85},{"s":"Ar","t":1830,"v":14.9},{"s":"Ar","t":1845,"v":15.15},{"s":"Ar","t":1860,"v":15.45},{"s":"Ar","t":1880,"v":15.75},{"s":"Ar","t":1900,"v":15.95},{"s":"Ar","t":1920,"v":16.1},{"s":"Ar","t":1940,"v":16.3},{"s":"Ar","t":1960,"v":16.25},{"s":"Ar","t":1980,"v":16.45},{"s":"Ar","t":2000,"v":16.7},
{"s":"Eu","t":1500,"v":13.8},{"s":"Eu","t":1525,"v":13.6},{"s":"Eu","t":1550,"v":13.5},{"s":"Eu","t":1575,"v":13.3},{"s":"Eu","t":1600,"v":13.15},{"s":"Eu","t":1625,"v":13.3},{"s":"Eu","t":1650,"v":13.4},{"s":"Eu","t":1675,"v":13.3},{"s":"Eu","t":1700,"v":13.35},{"s":"Eu","t":1725,"v":13.45},{"s":"Eu","t":1750,"v":13.4},{"s":"Eu","t":1775,"v":13.5},{"s":"Eu","t":1800,"v":13.6},{"s":"Eu","t":1825,"v":13.45},{"s":"Eu","t":1850,"v":13.5},{"s":"Eu","t":1875,"v":13.65},{"s":"Eu","t":1900,"v":13.7},{"s":"Eu","t":1925,"v":13.85},{"s":"Eu","t":1950,"v":13.95},{"s":"Eu","t":1975,"v":14.2},{"s":"Eu","t":1990,"v":14.3},{"s":"Eu","t":2000,"v":15.0},
{"s":"As","t":1500,"v":11.95},{"s":"As","t":1550,"v":11.9},{"s":"As","t":1600,"v":11.95},{"s":"As","t":1650,"v":11.85},{"s":"As","t":1700,"v":11.95},{"s":"As","t":1750,"v":11.9},{"s":"As","t":1800,"v":11.85},{"s":"As","t":1830,"v":11.75},{"s":"As","t":1850,"v":11.8},{"s":"As","t":1875,"v":12.0},{"s":"As","t":1900,"v":12.1},{"s":"As","t":1925,"v":12.2},{"s":"As","t":1950,"v":12.2},{"s":"As","t":1975,"v":12.35},{"s":"As","t":1990,"v":12.45},
{"s":"NA","t":1500,"v":10.6},{"s":"NA","t":1550,"v":10.5},{"s":"NA","t":1600,"v":10.55},{"s":"NA","t":1650,"v":10.45},{"s":"NA","t":1700,"v":10.5},{"s":"NA","t":1750,"v":10.5},{"s":"NA","t":1800,"v":10.45},{"s":"NA","t":1830,"v":10.25},{"s":"NA","t":1850,"v":10.2},{"s":"NA","t":1880,"v":10.35},{"s":"NA","t":1920,"v":10.7},{"s":"NA","t":1950,"v":10.95},{"s":"NA","t":1975,"v":11.0},
{"s":"WA","t":1552,"v":9.3},{"s":"WA","t":1575,"v":9.15},{"s":"WA","t":1600,"v":9.05},{"s":"WA","t":1625,"v":9.0},{"s":"WA","t":1650,"v":8.9},{"s":"WA","t":1675,"v":8.92},{"s":"WA","t":1700,"v":8.85},{"s":"WA","t":1725,"v":8.8},{"s":"WA","t":1750,"v":8.82},{"s":"WA","t":1775,"v":8.78},{"s":"WA","t":1800,"v":8.8},{"s":"WA","t":1825,"v":8.75},{"s":"WA","t":1840,"v":8.65},{"s":"WA","t":1860,"v":8.8},{"s":"WA","t":1880,"v":8.95},{"s":"WA","t":1900,"v":9.05},{"s":"WA","t":1925,"v":9.2},{"s":"WA","t":1950,"v":9.3},{"s":"WA","t":1975,"v":9.45},{"s":"WA","t":2005,"v":9.65},
{"s":"WP","t":1620,"v":7.55},{"s":"WP","t":1660,"v":7.5},{"s":"WP","t":1700,"v":7.5},{"s":"WP","t":1750,"v":7.45},{"s":"WP","t":1800,"v":7.35},{"s":"WP","t":1830,"v":7.35},{"s":"WP","t":1870,"v":7.5},{"s":"WP","t":1900,"v":7.6},{"s":"WP","t":1950,"v":7.75},{"s":"WP","t":2005,"v":7.92},
{"s":"IO","t":1622,"v":5.7},{"s":"IO","t":1640,"v":5.9},{"s":"IO","t":1680,"v":5.95},{"s":"IO","t":1720,"v":5.9},{"s":"IO","t":1760,"v":5.75},{"s":"IO","t":1800,"v":5.55},{"s":"IO","t":1820,"v":5.4},{"s":"IO","t":1835,"v":5.35},{"s":"IO","t":1850,"v":5.5},{"s":"IO","t":1870,"v":5.7},{"s":"IO","t":1900,"v":5.85},{"s":"IO","t":1950,"v":6.12},{"s":"IO","t":2000,"v":6.42},
{"s":"Au","t":1500,"v":4.5},{"s":"Au","t":1550,"v":4.45},{"s":"Au","t":1600,"v":4.47},{"s":"Au","t":1650,"v":4.43},{"s":"Au","t":1700,"v":4.45},{"s":"Au","t":1750,"v":4.42},{"s":"Au","t":1800,"v":4.44},{"s":"Au","t":1850,"v":4.42},{"s":"Au","t":1900,"v":4.42},{"s":"Au","t":1925,"v":4.5},{"s":"Au","t":1950,"v":4.65},{"s":"Au","t":1975,"v":4.75},{"s":"Au","t":2000,"v":4.9},
{"s":"SA","t":1500,"v":2.92},{"s":"SA","t":1550,"v":2.85},{"s":"SA","t":1600,"v":2.85},{"s":"SA","t":1650,"v":2.8},{"s":"SA","t":1700,"v":2.98},{"s":"SA","t":1760,"v":3.18},{"s":"SA","t":1800,"v":3.12},{"s":"SA","t":1830,"v":2.95},{"s":"SA","t":1860,"v":2.88},{"s":"SA","t":1900,"v":2.92},{"s":"SA","t":1930,"v":3.0},{"s":"SA","t":1960,"v":3.15},{"s":"SA","t":2000,"v":3.4},
{"s":"An","t":1500,"v":1.38},{"s":"An","t":1550,"v":1.35},{"s":"An","t":1600,"v":1.33},{"s":"An","t":1640,"v":1.4},{"s":"An","t":1680,"v":1.48},{"s":"An","t":1720,"v":1.38},{"s":"An","t":1760,"v":1.35},{"s":"An","t":1800,"v":1.3},{"s":"An","t":1830,"v":1.35},{"s":"An","t":1860,"v":1.25},{"s":"An","t":1900,"v":1.3},{"s":"An","t":1940,"v":1.25},{"s":"An","t":1970,"v":1.18},{"s":"An","t":2000,"v":1.4}
],
"onA":[
{"s":"Ar","t":1828,"lo":14.52,"hi":15.52},{"s":"Eu","t":1851,"lo":13.04,"hi":14.04},{"s":"As","t":1847,"lo":11.3,"hi":12.26},{"s":"NA","t":1846,"lo":9.74,"hi":10.74},{"s":"WA","t":1827,"lo":8.26,"hi":9.3},{"s":"WP","t":1833,"lo":6.93,"hi":7.93},{"s":"IO","t":1826,"lo":5.0,"hi":6.0},{"s":"Au","t":1903,"lo":3.93,"hi":4.93},{"s":"SA","t":1895,"lo":2.37,"hi":3.37}
],
"emC":[
{"s":"Ar","t":1928,"lo":15.52,"hi":16.48},{"s":"Eu","t":1994,"lo":13.78,"hi":14.74},{"s":"As","t":1988,"lo":11.89,"hi":12.85},{"s":"WA","t":1948,"lo":8.81,"hi":9.81},{"s":"WP","t":1961,"lo":7.26,"hi":8.22},{"s":"IO","t":1961,"lo":5.7,"hi":6.7},{"s":"Au","t":1957,"lo":4.11,"hi":5.11}
],
"ce":[
{"s":"Ar","t0":1620,"t1":1800,"t2":1990,"lo":14.48,"hi":16.0},{"s":"Eu","t0":1620,"t1":1800,"t2":1990,"lo":12.63,"hi":14.33},{"s":"As","t0":1620,"t1":1800,"t2":1990,"lo":11.41,"hi":12.37},{"s":"NA","t0":1620,"t1":1800,"t2":1990,"lo":10.04,"hi":10.93},{"s":"WA","t0":1620,"t1":1800,"t2":1990,"lo":8.48,"hi":9.33},{"s":"WP","t0":1620,"t1":1800,"t2":1990,"lo":7.3,"hi":7.78},{"s":"IO","t0":1620,"t1":1800,"t2":1990,"lo":5.48,"hi":6.19},{"s":"Au","t0":1620,"t1":1800,"t2":1990,"lo":4.15,"hi":4.63},{"s":"SA","t0":1620,"t1":1800,"t2":1990,"lo":2.48,"hi":3.52},{"s":"An","t0":1620,"t1":1800,"t2":1990,"lo":0.7,"hi":2.0}
],
"labs":[
{"s":"Ar","name":"Arctic2k","v":15.56},{"s":"Eu","name":"Europe2k","v":13.78},{"s":"As","name":"Asia2k","v":12.26},{"s":"NA","name":"North America2k","v":10.81},{"s":"WA","name":"O2k: western Atlantic","v":9.22},{"s":"WP","name":"O2k: western Pacific","v":7.74},{"s":"IO","name":"O2k: Indian","v":6.22},{"s":"Au","name":"Australasia2k","v":4.48},{"s":"SA","name":"South America2k","v":2.96},{"s":"An","name":"Antarctica2k","v":1.22}
],
"hb":[
{"s":"Ar","a":-1.126,"b":1.6,"y":43.07},{"s":"Eu","a":-0.975,"b":0.88,"y":38.43},{"s":"As","a":-0.756,"b":0.894,"y":33.83},{"s":"NA","a":-0.756,"b":0.894,"y":29.07},{"s":"WA","a":-0.756,"b":0.894,"y":24.5},{"s":"WP","a":-0.756,"b":0.894,"y":19.83},{"s":"IO","a":-0.756,"b":0.894,"y":15.17},{"s":"Au","a":-0.756,"b":0.894,"y":10.5},{"s":"SA","a":-0.756,"b":0.894,"y":5.77},{"s":"An","a":-0.756,"b":0.894,"y":1.13}
],
"hg":[
{"s":"Ar","a":-1.016,"b":-0.932,"lo":43.07,"hi":43.64},{"s":"Ar","a":-0.932,"b":-0.861,"lo":43.07,"hi":44.8},{"s":"Ar","a":-0.861,"b":-0.798,"lo":43.07,"hi":43.3},{"s":"Ar","a":-0.798,"b":-0.723,"lo":43.07,"hi":43.8},{"s":"Ar","a":-0.723,"b":-0.651,"lo":43.07,"hi":44.07},{"s":"Ar","a":-0.651,"b":-0.567,"lo":43.07,"hi":44.8},{"s":"Ar","a":-0.567,"b":-0.496,"lo":43.07,"hi":44.64},{"s":"Ar","a":-0.496,"b":-0.42,"lo":43.07,"hi":44.97},{"s":"Ar","a":-0.42,"b":-0.349,"lo":43.07,"hi":43.97},{"s":"Ar","a":-0.349,"b":-0.261,"lo":43.07,"hi":45.07},{"s":"Ar","a":-0.261,"b":-0.189,"lo":43.07,"hi":45.8},{"s":"Ar","a":-0.189,"b":0.042,"lo":43.07,"hi":46.74},{"s":"Ar","a":0.042,"b":0.117,"lo":43.07,"hi":45.47},{"s":"Ar","a":0.117,"b":0.189,"lo":43.07,"hi":44.07},{"s":"Ar","a":0.189,"b":0.26,"lo":43.07,"hi":44.14},{"s":"Ar","a":0.26,"b":0.411,"lo":43.07,"hi":44.9},{"s":"Ar","a":0.411,"b":0.482,"lo":43.07,"hi":43.8},{"s":"Ar","a":0.482,"b":0.629,"lo":43.07,"hi":43.8},{"s":"Ar","a":0.629,"b":0.713,"lo":43.07,"hi":43.54},{"s":"Ar","a":0.713,"b":0.86,"lo":43.07,"hi":43.22},{"s":"Ar","a":0.86,"b":0.944,"lo":43.07,"hi":43.4},
{"s":"Eu","a":-0.966,"b":-0.861,"lo":38.43,"hi":38.5},{"s":"Eu","a":-0.861,"b":-0.798,"lo":38.43,"hi":39.23},{"s":"Eu","a":-0.798,"b":-0.706,"lo":38.43,"hi":39.76},{"s":"Eu","a":-0.706,"b":-0.63,"lo":38.43,"hi":39.66},{"s":"Eu","a":-0.63,"b":-0.567,"lo":38.43,"hi":39.0},{"s":"Eu","a":-0.567,"b":-0.496,"lo":38.43,"hi":39.56},{"s":"Eu","a":-0.496,"b":-0.42,"lo":38.43,"hi":39.76},{"s":"Eu","a":-0.42,"b":-0.345,"lo":38.43,"hi":39.73},{"s":"Eu","a":-0.345,"b":-0.261,"lo":38.43,"hi":39.76},{"s":"Eu","a":-0.261,"b":-0.198,"lo":38.43,"hi":39.16},{"s":"Eu","a":-0.198,"b":-0.118,"lo":38.43,"hi":40.1},{"s":"Eu","a":-0.118,"b":-0.042,"lo":38.43,"hi":39.5},{"s":"Eu","a":-0.042,"b":0.042,"lo":38.43,"hi":40.33},{"s":"Eu","a":0.042,"b":0.117,"lo":38.43,"hi":39.83},{"s":"Eu","a":0.117,"b":0.189,"lo":38.43,"hi":40.5},{"s":"Eu","a":0.189,"b":0.26,"lo":38.43,"hi":40.23},{"s":"Eu","a":0.26,"b":0.335,"lo":38.43,"hi":40.5},{"s":"Eu","a":0.335,"b":0.419,"lo":38.43,"hi":40.66},{"s":"Eu","a":0.419,"b":0.495,"lo":38.43,"hi":40.56},{"s":"Eu","a":0.495,"b":0.566,"lo":38.43,"hi":39.56},{"s":"Eu","a":0.566,"b":0.638,"lo":38.43,"hi":39.83},{"s":"Eu","a":0.638,"b":0.713,"lo":38.43,"hi":39.0},{"s":"Eu","a":0.713,"b":0.789,"lo":38.43,"hi":38.56},
{"s":"As","a":-0.492,"b":-0.42,"lo":33.83,"hi":34.06},{"s":"As","a":-0.42,"b":-0.336,"lo":33.83,"hi":35.16},{"s":"As","a":-0.336,"b":-0.252,"lo":33.83,"hi":35.26},{"s":"As","a":-0.252,"b":-0.189,"lo":33.83,"hi":34.6},{"s":"As","a":-0.189,"b":-0.114,"lo":33.83,"hi":34.76},{"s":"As","a":-0.114,"b":-0.042,"lo":33.83,"hi":36.0},{"s":"As","a":-0.042,"b":0.029,"lo":33.83,"hi":36.1},{"s":"As","a":0.029,"b":0.113,"lo":33.83,"hi":37.5},{"s":"As","a":0.113,"b":0.197,"lo":33.83,"hi":36.1},{"s":"As","a":0.197,"b":0.272,"lo":33.83,"hi":34.83},
{"s":"NA","a":-0.567,"b":-0.261,"lo":29.07,"hi":30.57},{"s":"NA","a":-0.114,"b":-0.03,"lo":29.07,"hi":32.07},{"s":"NA","a":-0.03,"b":0.042,"lo":29.07,"hi":31.84},{"s":"NA","a":0.042,"b":0.113,"lo":29.07,"hi":30.6},{"s":"NA","a":0.113,"b":0.18,"lo":29.07,"hi":31.34},{"s":"NA","a":0.18,"b":0.26,"lo":29.07,"hi":31.6},{"s":"NA","a":0.26,"b":0.344,"lo":29.07,"hi":32.1},
{"s":"WA","a":-0.42,"b":-0.273,"lo":24.5,"hi":26.1},{"s":"WA","a":-0.273,"b":-0.181,"lo":24.5,"hi":28.0},{"s":"WA","a":-0.181,"b":-0.105,"lo":24.5,"hi":27.73},{"s":"WA","a":-0.105,"b":-0.042,"lo":24.5,"hi":26.17},{"s":"WA","a":-0.042,"b":0.042,"lo":24.5,"hi":28.17},{"s":"WA","a":0.042,"b":0.117,"lo":24.5,"hi":26.33},{"s":"WA","a":0.117,"b":0.18,"lo":24.5,"hi":24.73},{"s":"WA","a":0.18,"b":0.252,"lo":24.5,"hi":24.77},{"s":"WA","a":0.252,"b":0.335,"lo":24.5,"hi":24.9},{"s":"WA","a":0.335,"b":0.407,"lo":24.5,"hi":24.83},{"s":"WA","a":0.407,"b":0.482,"lo":24.5,"hi":25.07},
{"s":"WP","a":-0.252,"b":-0.198,"lo":19.83,"hi":21.06},{"s":"WP","a":-0.198,"b":-0.114,"lo":19.83,"hi":23.5},{"s":"WP","a":-0.114,"b":-0.03,"lo":19.83,"hi":23.23},{"s":"WP","a":-0.03,"b":0.042,"lo":19.83,"hi":22.23},{"s":"WP","a":0.042,"b":0.113,"lo":19.83,"hi":22.23},{"s":"WP","a":0.113,"b":0.18,"lo":19.83,"hi":20.33},
{"s":"IO","a":-0.567,"b":-0.492,"lo":15.17,"hi":16.4},{"s":"IO","a":-0.492,"b":-0.408,"lo":15.17,"hi":16.5},{"s":"IO","a":-0.408,"b":-0.345,"lo":15.17,"hi":15.9},{"s":"IO","a":-0.345,"b":-0.273,"lo":15.17,"hi":15.97},{"s":"IO","a":-0.273,"b":-0.198,"lo":15.17,"hi":16.5},{"s":"IO","a":-0.198,"b":-0.105,"lo":15.17,"hi":18.6},{"s":"IO","a":-0.105,"b":-0.03,"lo":15.17,"hi":17.1},{"s":"IO","a":-0.03,"b":0.042,"lo":15.17,"hi":16.17},{"s":"IO","a":0.042,"b":0.113,"lo":15.17,"hi":15.4},{"s":"IO","a":0.113,"b":0.264,"lo":15.17,"hi":15.3},{"s":"IO","a":0.264,"b":0.335,"lo":15.17,"hi":15.57},{"s":"IO","a":0.335,"b":0.419,"lo":15.17,"hi":15.44},{"s":"IO","a":0.419,"b":0.566,"lo":15.17,"hi":15.34},{"s":"IO","a":0.566,"b":0.637,"lo":15.17,"hi":15.3},
{"s":"Au","a":-0.118,"b":-0.042,"lo":10.5,"hi":12.83},{"s":"Au","a":-0.042,"b":0.042,"lo":10.5,"hi":14.17},{"s":"Au","a":0.042,"b":0.117,"lo":10.5,"hi":13.0},{"s":"Au","a":0.117,"b":0.188,"lo":10.5,"hi":10.93},{"s":"Au","a":0.188,"b":0.566,"lo":10.5,"hi":10.57},
{"s":"SA","a":-0.643,"b":-0.567,"lo":5.77,"hi":5.84},{"s":"SA","a":-0.567,"b":-0.492,"lo":5.77,"hi":6.34},{"s":"SA","a":-0.492,"b":-0.408,"lo":5.77,"hi":7.24},{"s":"SA","a":-0.408,"b":-0.336,"lo":5.77,"hi":7.0},{"s":"SA","a":-0.336,"b":-0.265,"lo":5.77,"hi":6.0},{"s":"SA","a":-0.265,"b":-0.189,"lo":5.77,"hi":6.0},{"s":"SA","a":-0.189,"b":-0.114,"lo":5.77,"hi":6.34},{"s":"SA","a":-0.114,"b":-0.034,"lo":5.77,"hi":9.34},{"s":"SA","a":-0.034,"b":0.042,"lo":5.77,"hi":8.34},{"s":"SA","a":0.042,"b":0.117,"lo":5.77,"hi":6.9},{"s":"SA","a":0.117,"b":0.197,"lo":5.77,"hi":7.17},{"s":"SA","a":0.197,"b":0.272,"lo":5.77,"hi":6.9},{"s":"SA","a":0.272,"b":0.335,"lo":5.77,"hi":6.17},{"s":"SA","a":0.335,"b":0.419,"lo":5.77,"hi":7.5},{"s":"SA","a":0.419,"b":0.558,"lo":5.77,"hi":6.4},{"s":"SA","a":0.558,"b":0.642,"lo":5.77,"hi":6.57},
{"s":"An","a":-0.42,"b":-0.345,"lo":1.13,"hi":1.56},{"s":"An","a":-0.345,"b":-0.265,"lo":1.13,"hi":1.66},{"s":"An","a":-0.265,"b":-0.189,"lo":1.13,"hi":2.23},{"s":"An","a":-0.189,"b":-0.114,"lo":1.13,"hi":3.5},{"s":"An","a":-0.114,"b":-0.034,"lo":1.13,"hi":3.9},{"s":"An","a":-0.034,"b":0.042,"lo":1.13,"hi":2.9},{"s":"An","a":0.042,"b":0.117,"lo":1.13,"hi":2.5},{"s":"An","a":0.117,"b":0.197,"lo":1.13,"hi":2.23},{"s":"An","a":0.197,"b":0.272,"lo":1.13,"hi":1.66},{"s":"An","a":0.272,"b":0.419,"lo":1.13,"hi":1.5}
],
"hc":[
{"s":"Ar","a":0.482,"b":0.566,"lo":43.07,"hi":44.54},{"s":"Ar","a":0.566,"b":0.638,"lo":43.07,"hi":44.4},{"s":"Ar","a":0.638,"b":0.713,"lo":43.07,"hi":43.97},{"s":"Ar","a":0.713,"b":0.86,"lo":43.07,"hi":43.54},{"s":"Ar","a":0.86,"b":1.007,"lo":43.07,"hi":44.4},{"s":"Ar","a":1.007,"b":1.083,"lo":43.07,"hi":44.8},{"s":"Ar","a":1.083,"b":1.154,"lo":43.07,"hi":44.14},{"s":"Ar","a":1.154,"b":1.238,"lo":43.07,"hi":44.3},{"s":"Ar","a":1.238,"b":1.301,"lo":43.07,"hi":45.07},{"s":"Ar","a":1.301,"b":1.385,"lo":43.07,"hi":43.74},{"s":"Ar","a":1.385,"b":1.461,"lo":43.07,"hi":43.54},{"s":"Ar","a":1.461,"b":1.544,"lo":43.07,"hi":43.3},
{"s":"Eu","a":-0.042,"b":0.042,"lo":38.43,"hi":40.76},{"s":"Eu","a":0.042,"b":0.117,"lo":38.43,"hi":40.33},{"s":"Eu","a":0.117,"b":0.189,"lo":38.43,"hi":40.66},{"s":"Eu","a":0.189,"b":0.26,"lo":38.43,"hi":40.43},{"s":"Eu","a":0.26,"b":0.335,"lo":38.43,"hi":41.56},{"s":"Eu","a":0.335,"b":0.419,"lo":38.43,"hi":40.66},{"s":"Eu","a":0.419,"b":0.495,"lo":38.43,"hi":42.16},{"s":"Eu","a":0.495,"b":0.566,"lo":38.43,"hi":41.0},{"s":"Eu","a":0.566,"b":0.638,"lo":38.43,"hi":41.56},{"s":"Eu","a":0.638,"b":0.713,"lo":38.43,"hi":39.9},{"s":"Eu","a":0.713,"b":0.789,"lo":38.43,"hi":38.63},
{"s":"As","a":0.113,"b":0.197,"lo":33.83,"hi":36.3},{"s":"As","a":0.197,"b":0.272,"lo":33.83,"hi":35.63},{"s":"As","a":0.272,"b":0.335,"lo":33.83,"hi":33.93},{"s":"As","a":0.335,"b":0.411,"lo":33.83,"hi":34.06},{"s":"As","a":0.411,"b":0.495,"lo":33.83,"hi":35.1},{"s":"As","a":0.495,"b":0.566,"lo":33.83,"hi":35.03},{"s":"As","a":0.566,"b":0.642,"lo":33.83,"hi":34.26},{"s":"As","a":0.642,"b":0.713,"lo":33.83,"hi":34.16},{"s":"As","a":0.713,"b":0.789,"lo":33.83,"hi":33.93},
{"s":"NA","a":-0.03,"b":0.042,"lo":29.07,"hi":32.07},{"s":"NA","a":0.18,"b":0.26,"lo":29.07,"hi":32.34},{"s":"NA","a":0.26,"b":0.344,"lo":29.07,"hi":32.77},{"s":"NA","a":0.344,"b":0.482,"lo":29.07,"hi":29.84},{"s":"NA","a":0.482,"b":0.566,"lo":29.07,"hi":30.57},{"s":"NA","a":0.638,"b":0.789,"lo":29.07,"hi":29.84},
{"s":"WA","a":0.18,"b":0.252,"lo":24.5,"hi":26.83},{"s":"WA","a":0.252,"b":0.335,"lo":24.5,"hi":25.67},{"s":"WA","a":0.335,"b":0.407,"lo":24.5,"hi":26.27},{"s":"WA","a":0.407,"b":0.482,"lo":24.5,"hi":26.27},{"s":"WA","a":0.482,"b":0.566,"lo":24.5,"hi":26.67},{"s":"WA","a":0.566,"b":0.642,"lo":24.5,"hi":25.0},
{"s":"WP","a":0.042,"b":0.113,"lo":19.83,"hi":22.83},{"s":"WP","a":0.113,"b":0.18,"lo":19.83,"hi":21.33},{"s":"WP","a":0.18,"b":0.264,"lo":19.83,"hi":22.06},{"s":"WP","a":0.264,"b":0.335,"lo":19.83,"hi":21.56},{"s":"WP","a":0.335,"b":0.419,"lo":19.83,"hi":21.66},{"s":"WP","a":0.419,"b":0.495,"lo":19.83,"hi":20.33},
{"s":"IO","a":0.264,"b":0.335,"lo":15.17,"hi":16.44},{"s":"IO","a":0.335,"b":0.419,"lo":15.17,"hi":17.57},{"s":"IO","a":0.419,"b":0.482,"lo":15.17,"hi":15.9},{"s":"IO","a":0.482,"b":0.566,"lo":15.17,"hi":18.84},{"s":"IO","a":0.566,"b":0.637,"lo":15.17,"hi":15.77},{"s":"IO","a":0.637,"b":0.713,"lo":15.17,"hi":15.67},
{"s":"Au","a":-0.118,"b":-0.042,"lo":10.5,"hi":13.17},{"s":"Au","a":-0.042,"b":0.042,"lo":10.5,"hi":14.57},{"s":"Au","a":0.042,"b":0.117,"lo":10.5,"hi":14.0},{"s":"Au","a":0.117,"b":0.188,"lo":10.5,"hi":11.27},{"s":"Au","a":0.188,"b":0.335,"lo":10.5,"hi":10.6},{"s":"Au","a":0.335,"b":0.482,"lo":10.5,"hi":10.63},{"s":"Au","a":0.482,"b":0.566,"lo":10.5,"hi":10.73},
{"s":"SA","a":-0.408,"b":-0.336,"lo":5.77,"hi":7.34},{"s":"SA","a":-0.336,"b":-0.265,"lo":5.77,"hi":6.17},{"s":"SA","a":-0.265,"b":-0.189,"lo":5.77,"hi":6.07},{"s":"SA","a":-0.189,"b":-0.114,"lo":5.77,"hi":6.57},{"s":"SA","a":-0.114,"b":-0.034,"lo":5.77,"hi":9.5},{"s":"SA","a":-0.034,"b":0.042,"lo":5.77,"hi":8.77},{"s":"SA","a":0.042,"b":0.117,"lo":5.77,"hi":7.4},{"s":"SA","a":0.117,"b":0.197,"lo":5.77,"hi":7.57},{"s":"SA","a":0.197,"b":0.272,"lo":5.77,"hi":6.97},{"s":"SA","a":0.272,"b":0.335,"lo":5.77,"hi":6.84},{"s":"SA","a":0.335,"b":0.419,"lo":5.77,"hi":8.44},{"s":"SA","a":0.419,"b":0.558,"lo":5.77,"hi":6.67},{"s":"SA","a":0.558,"b":0.642,"lo":5.77,"hi":6.84},
{"s":"An","a":-0.265,"b":-0.189,"lo":1.13,"hi":2.33},{"s":"An","a":-0.189,"b":-0.114,"lo":1.13,"hi":4.83},{"s":"An","a":-0.114,"b":-0.034,"lo":1.13,"hi":4.83},{"s":"An","a":-0.034,"b":0.042,"lo":1.13,"hi":3.4},{"s":"An","a":0.042,"b":0.117,"lo":1.13,"hi":3.1},{"s":"An","a":0.117,"b":0.197,"lo":1.13,"hi":3.0},{"s":"An","a":0.197,"b":0.272,"lo":1.13,"hi":2.1}
]
},
"spacing":29.5,
"bounds":"flush",
"hconcat":[
{
"width":254,"height":473,
"resolve":{"axis":{"x":"independent"}},
"layer":[
{"data":{"values":[{}]},"mark":{"type":"point","opacity":0,"size":2},"encoding":{"x":{"datum":1133,"type":"quantitative","axis":null,"scale":{"domain":[1500,2015],"nice":false,"zero":false}},"y":{"datum":18.7,"type":"quantitative","axis":null,"scale":{"domain":[0,17.52],"nice":false,"zero":false}}}},
{"data":{"name":"ts"},"mark":{"type":"line","strokeWidth":1.05},"encoding":{"x":{"field":"t","type":"quantitative","axis":{"orient":"bottom","values":[1500,1600,1700,1800,1900,2000],"format":"d","title":"Year CE","tickSize":-5,"labelPadding":11,"titlePadding":3}},"y":{"field":"v","type":"quantitative","axis":null},"color":{"field":"s","type":"nominal","legend":null,"scale":{"domain":["Ar","Eu","As","NA","WA","WP","IO","Au","SA","An"],"range":["#a52a2a","#a0522d","#d2691e","#ff8c00","#0000ff","#1e90ff","#00ced1","#b8860b","#808000","#556b2f"]}},"detail":{"field":"s"}}},
{"data":{"name":"smB"},"mark":{"type":"line","strokeWidth":0.9,"color":"black","interpolate":"monotone"},"encoding":{"x":{"field":"t","type":"quantitative","axis":null},"y":{"field":"v","type":"quantitative","axis":null},"detail":{"field":"s"}}},
{"data":{"name":"smA"},"mark":{"type":"line","strokeWidth":2,"color":"black","interpolate":"monotone"},"encoding":{"x":{"field":"t","type":"quantitative","axis":{"orient":"top","values":[1500,1600,1700,1800,1900,2000],"labels":false,"title":null,"tickSize":-5}},"y":{"field":"v","type":"quantitative","axis":null},"detail":{"field":"s"}}},
{"data":{"name":"onA"},"mark":{"type":"rule","strokeWidth":4,"color":"black"},"encoding":{"x":{"field":"t","type":"quantitative","axis":null},"y":{"field":"lo","type":"quantitative","axis":null},"y2":{"field":"hi"}}},
{"data":{"name":"labs"},"mark":{"type":"text","align":"right","baseline":"middle","fontSize":17.5},"encoding":{"x":{"datum":1482,"type":"quantitative","axis":null},"y":{"field":"v","type":"quantitative","axis":null},"text":{"field":"name"},"color":{"field":"s","type":"nominal","legend":null}}},
{"data":{"values":[{}]},"mark":{"type":"rule","strokeWidth":2,"color":"#999999"},"encoding":{"x":{"datum":1539,"type":"quantitative","axis":null},"y":{"datum":6.33,"type":"quantitative","axis":null},"y2":{"datum":7.33}}},
{"data":{"values":[{"c":6.33},{"c":7.33}]},"mark":{"type":"rule","strokeWidth":2,"color":"#999999"},"encoding":{"x":{"datum":1533,"type":"quantitative","axis":null},"x2":{"datum":1545},"y":{"field":"c","type":"quantitative","axis":null}}},
{"data":{"values":[{}]},"mark":{"type":"text","text":"1°C","align":"left","baseline":"middle","fontSize":17,"color":"#999999"},"encoding":{"x":{"datum":1548,"type":"quantitative","axis":null},"y":{"datum":6.94,"type":"quantitative","axis":null}}},
{"data":{"values":[{}]},"mark":{"type":"text","text":"a","align":"left","baseline":"alphabetic","fontSize":20,"fontWeight":"bold","color":"black"},"encoding":{"x":{"datum":1500,"type":"quantitative","axis":null},"y":{"datum":17.86,"type":"quantitative","axis":null}}},
{"data":{"values":[{}]},"mark":{"type":"text","text":"Onset of warming","align":"center","baseline":"alphabetic","fontSize":18,"color":"black"},"encoding":{"x":{"datum":1761,"type":"quantitative","axis":null},"y":{"datum":17.86,"type":"quantitative","axis":null}}}
]
},
{
"width":253,"height":473,
"resolve":{"axis":{"x":"independent"}},
"layer":[
{"data":{"name":"hc"},"mark":{"type":"rect"},"encoding":{"x":{"field":"a","type":"quantitative","scale":{"domain":[-1.6,1.6],"nice":false,"zero":false},"axis":{"orient":"bottom","values":[-1.5,-1,-0.5,0,0.5,1,1.5],"format":"~g","title":"Temperature trend (°C 100y⁻¹)","tickSize":-5,"labelPadding":11,"titlePadding":3}},"x2":{"field":"b"},"y":{"field":"lo","type":"quantitative","axis":null,"scale":{"domain":[0,47.3],"nice":false,"zero":false}},"y2":{"field":"hi"},"color":{"field":"s","type":"nominal","legend":null}}},
{"data":{"name":"hg"},"mark":{"type":"rect","color":"#b4b4b4"},"encoding":{"x":{"field":"a","type":"quantitative","axis":{"orient":"top","values":[-1.5,-1,-0.5,0,0.5,1,1.5],"labels":false,"title":null,"tickSize":-5}},"x2":{"field":"b"},"y":{"field":"lo","type":"quantitative","axis":null},"y2":{"field":"hi"}}},
{"data":{"name":"hb"},"mark":{"type":"rule","strokeWidth":2,"color":"#444444"},"encoding":{"x":{"field":"a","type":"quantitative","axis":null},"x2":{"field":"b"},"y":{"field":"y","type":"quantitative","axis":null}}},
{"data":{"values":[{}]},"mark":{"type":"rule","strokeWidth":1.3,"color":"#222222"},"encoding":{"x":{"datum":0,"type":"quantitative","axis":null},"y":{"datum":43.07,"type":"quantitative","axis":null},"y2":{"datum":1.13}}},
{"data":{"values":[{}]},"mark":{"type":"text","text":"b","align":"left","baseline":"alphabetic","fontSize":20,"fontWeight":"bold","color":"black","dx":-3},"encoding":{"x":{"datum":-1.6,"type":"quantitative","axis":null},"y":{"datum":48.2,"type":"quantitative","axis":null}}},
{"data":{"values":[{}]},"mark":{"type":"text","text":"100y trend distributions","align":"center","baseline":"alphabetic","fontSize":18,"color":"black"},"encoding":{"x":{"datum":0.02,"type":"quantitative","axis":null},"y":{"datum":48.2,"type":"quantitative","axis":null}}}
]
},
{
"width":254,"height":473,
"resolve":{"axis":{"x":"independent"}},
"layer":[
{"data":{"name":"ce"},"mark":{"type":"rect"},"encoding":{"x":{"field":"t0","type":"quantitative","axis":null,"scale":{"domain":[1500,2015],"nice":false,"zero":false}},"x2":{"field":"t1"},"y":{"field":"lo","type":"quantitative","axis":null,"scale":{"domain":[0,17.52],"nice":false,"zero":false}},"y2":{"field":"hi"},"fill":{"field":"s","type":"nominal","legend":null,"scale":{"domain":["Ar","Eu","As","NA","WA","WP","IO","Au","SA","An"],"range":["#e9967a","#d2b48c","#deb887","#ffdead","#b0c4de","#add8e6","#afeeee","#deb887","#bdb76b","#8fbc8f"]}}}},
{"data":{"name":"ce"},"mark":{"type":"rule","strokeWidth":1.3,"strokeDash":[7,5]},"encoding":{"x":{"field":"t1","type":"quantitative","axis":null},"x2":{"field":"t2"},"y":{"field":"hi","type":"quantitative","axis":null},"stroke":{"field":"s","type":"nominal","legend":null,"scale":{"domain":["Ar","Eu","As","NA","WA","WP","IO","Au","SA","An"],"range":["#e9967a","#d2b48c","#deb887","#ffdead","#b0c4de","#add8e6","#afeeee","#deb887","#bdb76b","#8fbc8f"]}}}},
{"data":{"name":"ts"},"mark":{"type":"line","strokeWidth":1.05},"encoding":{"x":{"field":"t","type":"quantitative","axis":{"orient":"bottom","values":[1500,1600,1700,1800,1900,2000],"format":"d","title":"Year CE","tickSize":-5,"labelPadding":11,"titlePadding":3}},"y":{"field":"v","type":"quantitative","axis":null},"color":{"field":"s","type":"nominal","legend":null},"detail":{"field":"s"}}},
{"data":{"name":"smB"},"mark":{"type":"line","strokeWidth":0.9,"color":"black","interpolate":"monotone"},"encoding":{"x":{"field":"t","type":"quantitative","axis":null},"y":{"field":"v","type":"quantitative","axis":null},"detail":{"field":"s"}}},
{"data":{"name":"smA"},"mark":{"type":"line","strokeWidth":2,"color":"black","interpolate":"monotone"},"encoding":{"x":{"field":"t","type":"quantitative","axis":{"orient":"top","values":[1500,1600,1700,1800,1900,2000],"labels":false,"title":null,"tickSize":-5}},"y":{"field":"v","type":"quantitative","axis":null},"detail":{"field":"s"}}},
{"data":{"name":"emC"},"mark":{"type":"rule","strokeWidth":4,"color":"black"},"encoding":{"x":{"field":"t","type":"quantitative","axis":null},"y":{"field":"lo","type":"quantitative","axis":null},"y2":{"field":"hi"}}},
{"data":{"values":[{}]},"mark":{"type":"rule","strokeWidth":2,"color":"#999999"},"encoding":{"x":{"datum":1539,"type":"quantitative","axis":null},"y":{"datum":6.33,"type":"quantitative","axis":null},"y2":{"datum":7.33}}},
{"data":{"values":[{"c":6.33},{"c":7.33}]},"mark":{"type":"rule","strokeWidth":2,"color":"#999999"},"encoding":{"x":{"datum":1533,"type":"quantitative","axis":null},"x2":{"datum":1545},"y":{"field":"c","type":"quantitative","axis":null}}},
{"data":{"values":[{}]},"mark":{"type":"text","text":"1°C","align":"left","baseline":"middle","fontSize":17,"color":"#999999"},"encoding":{"x":{"datum":1548,"type":"quantitative","axis":null},"y":{"datum":6.94,"type":"quantitative","axis":null}}},
{"data":{"values":[{}]},"mark":{"type":"text","text":"c","align":"left","baseline":"alphabetic","fontSize":20,"fontWeight":"bold","color":"black"},"encoding":{"x":{"datum":1500,"type":"quantitative","axis":null},"y":{"datum":17.86,"type":"quantitative","axis":null}}},
{"data":{"values":[{}]},"mark":{"type":"text","text":"Climate emergence","align":"center","baseline":"alphabetic","fontSize":18,"color":"black"},"encoding":{"x":{"datum":1745,"type":"quantitative","axis":null},"y":{"datum":17.86,"type":"quantitative","axis":null}}}
]
}
]
}
